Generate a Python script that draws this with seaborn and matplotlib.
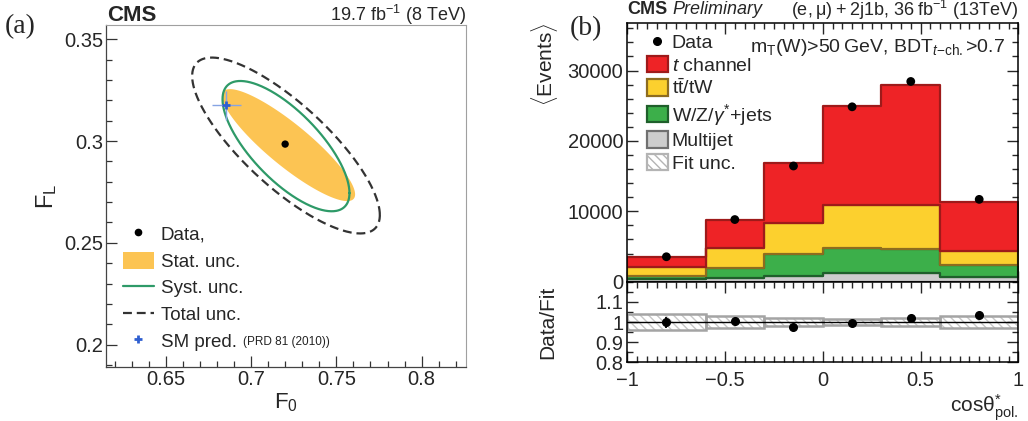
import numpy as np
import pandas as pd
import matplotlib
matplotlib.use('Agg')
import matplotlib.pyplot as plt
from matplotlib.colors import to_hex
from matplotlib.lines import Line2D
from matplotlib.patches import Patch
from matplotlib.ticker import MultipleLocator, FixedLocator, FixedFormatter
import seaborn as sns

# ── (a) W helicity fractions F0 vs FL ─────────────────────────────────────
contour_names = ['Stat. unc.', 'Syst. unc.', 'Total unc.']
contour_F0  = [0.7220, 0.7205, 0.7205]     # contour centre
contour_FL  = [0.2980, 0.2975, 0.2978]
contour_dF0 = [0.0390, 0.0372, 0.0550]     # half extent along F0
contour_dFL = [0.0275, 0.0320, 0.0432]     # half extent along FL
contour_rho = [-0.88, -0.72, -0.79]

data_F0, data_FL = [0.720], [0.2985]
sm_F0, sm_FL = [0.6855], [0.3175]
sm_F0_err, sm_FL_err = [0.0085], [0.0072]

a_xticks  = [0.65, 0.70, 0.75, 0.80]
a_xlabels = ['0.65', '0.7', '0.75', '0.8']
a_yticks  = [0.20, 0.25, 0.30, 0.35]
a_ylabels = ['0.2', '0.25', '0.3', '0.35']

# ── (b) cos theta*_pol. distribution ──────────────────────────────────────
bin_edges   = [-1.0, -0.6, -0.3, 0.0, 0.3, 0.6, 1.0]
yield_tch   = [1420, 4030, 8440, 14080, 17060, 6920]
yield_ttbar = [1280, 2840, 4500, 6210, 6160, 2040]
yield_wjets = [520, 1330, 3030, 3460, 3510, 1660]
yield_qcd   = [330, 570, 850, 1280, 1190, 710]
data_counts = [3544, 8830, 16440, 24850, 28450, 11700]
ratio_err   = [0.028, 0.012, 0.009, 0.007, 0.007, 0.010]
fit_unc_rel = [0.042, 0.030, 0.022, 0.017, 0.020, 0.029]

proc_labels = [r'$t$ channel', r'$\mathrm{t\bar{t}}$/tW',
               r'W/Z/$\gamma^{*}$+jets', 'Multijet']
proc_fill = ['#ee2326', '#fcd02e', '#3caf4a', '#cdcdcd']
proc_edge = ['#9e1a1a', '#8d6c1f', '#1f5f2b', '#707070']

b_xticks  = [-1, -0.5, 0, 0.5, 1]
b_xlabels = ['\u22121', '\u22120.5', '0', '0.5', '1']
r_yticks  = [0.8, 0.9, 1.0, 1.1]
r_ylabels = ['0.8', '0.9', '1', '1.1']

# ── Style ─────────────────────────────────────────────────────────────────
sns.set_theme(style='ticks')
plt.rcParams['font.family'] = ['Liberation Sans', 'DejaVu Sans']
plt.rcParams['mathtext.fontset'] = 'custom'
plt.rcParams['mathtext.rm'] = 'Liberation Sans'
plt.rcParams['mathtext.it'] = 'Liberation Sans:italic'
plt.rcParams['mathtext.bf'] = 'Liberation Sans:bold'
plt.rcParams['hatch.linewidth'] = 1.0

W, H = 1028, 421
fig = plt.figure(figsize=(W / 100, H / 100), dpi=100)
fig.patch.set_facecolor('white')


def px_axes(x0, y0, x1, y1):
    return fig.add_axes([x0 / W, 1 - y1 / H, (x1 - x0) / W, (y1 - y0) / H])


# ── Panel (a) ─────────────────────────────────────────────────────────────
ax = px_axes(106, 25, 466, 367)
t = np.linspace(0, 2 * np.pi, 500)
styles = [dict(kind='fill', color='#fcc453'),
          dict(kind='line', color='#2e9a68', lw=1.6, ls='-'),
          dict(kind='line', color='#333333', lw=1.6, ls=(0, (4, 2.2)))]
for cx, cy, sx, sy, r, st in zip(contour_F0, contour_FL, contour_dF0,
                                 contour_dFL, contour_rho, styles):
    ex = cx + sx * np.cos(t)
    ey = cy + sy * (r * np.cos(t) + np.sqrt(1 - r ** 2) * np.sin(t))
    if st['kind'] == 'fill':
        ax.fill(ex, ey, color=st['color'], lw=0, zorder=1)
    else:
        ax.plot(ex, ey, color=st['color'], lw=st['lw'], ls=st['ls'], zorder=2)

ax.errorbar(sm_F0, sm_FL, xerr=sm_F0_err, yerr=sm_FL_err, fmt='none',
            ecolor='#86a4e4', elinewidth=1.0, zorder=3)
ax.plot(sm_F0, sm_FL, marker='+', color='#2f5fd0', ms=6, mew=2, ls='none',
        zorder=4)
sns.scatterplot(x=data_F0, y=data_FL, color='black', s=28, edgecolor='none',
                ax=ax, zorder=5)

ax.set_xlim(0.615, 0.826)
ax.set_ylim(0.189, 0.357)
ax.xaxis.set_major_locator(FixedLocator(a_xticks))
ax.xaxis.set_major_formatter(FixedFormatter(a_xlabels))
ax.yaxis.set_major_locator(FixedLocator(a_yticks))
ax.yaxis.set_major_formatter(FixedFormatter(a_ylabels))
ax.xaxis.set_minor_locator(MultipleLocator(0.01))
ax.yaxis.set_minor_locator(MultipleLocator(0.01))
ax.tick_params(which='both', direction='in', labelsize=14.5, pad=2,
               color='#333333', width=0.9)
ax.tick_params(which='major', length=8)
ax.tick_params(which='minor', length=4)
for s in ['left', 'bottom']:
    ax.spines[s].set_color('#444444')
    ax.spines[s].set_linewidth(0.9)
for s in ['top', 'right']:
    ax.spines[s].set_visible(True)
    ax.spines[s].set_color('#a0a0a0')
    ax.spines[s].set_linewidth(0.8)
ax.set_xlabel(r'F$_0$', fontsize=16, labelpad=2)
ax.set_ylabel(r'F$_\mathrm{L}$', fontsize=17, labelpad=4)

leg_a = [Line2D([], [], marker='o', ls='none', color='black', ms=4.5,
                label='Data,'),
         Patch(facecolor='#fcc453', edgecolor='none', label=contour_names[0]),
         Line2D([], [], color='#2e9a68', lw=1.6, label=contour_names[1]),
         Line2D([], [], color='#333333', lw=1.6, ls=(0, (4, 2.2)),
                label=contour_names[2]),
         Line2D([], [], marker='+', ls='none', color='#2f5fd0', ms=6, mew=2,
                label='SM pred.')]
ax.legend(handles=leg_a, loc='upper left', bbox_to_anchor=(0.047, 0.415),
          frameon=False, fontsize=13.5, borderpad=0, borderaxespad=0,
          handlelength=1.65, handleheight=1.0, handletextpad=0.37,
          labelspacing=0.42)
ax.text(0.381, 0.074, '(PRD 81 (2010))', transform=ax.transAxes,
        fontsize=8.5, va='center', ha='left', color='#222222')

fig.text(5 / W, 1 - 33 / H, '(a)', family='Liberation Serif', fontsize=20)
fig.text(107 / W, 1 - 21 / H, 'CMS', fontsize=16, fontweight='bold')
fig.text(466 / W, 1 - 21 / H, r'19.7 fb$^{-1}$ (8 TeV)', fontsize=13,
         ha='right')

# ── Panel (b): stacked histogram ──────────────────────────────────────────
axm = px_axes(627.3, 22.7, 1018.3, 281.7)
axr = px_axes(627.3, 281.7, 1018.3, 362.3)

centers = [(lo + hi) / 2 for lo, hi in zip(bin_edges[:-1], bin_edges[1:])]
widths = [hi - lo for lo, hi in zip(bin_edges[:-1], bin_edges[1:])]
stack = pd.DataFrame({
    'x': centers * 4,
    'w': yield_tch + yield_ttbar + yield_wjets + yield_qcd,
    'proc': sum([[p] * len(centers) for p in proc_labels], []),
})
sns.histplot(data=stack, x='x', weights='w', hue='proc',
             hue_order=proc_labels, bins=bin_edges, multiple='stack',
             element='step', palette=dict(zip(proc_labels, proc_fill)),
             alpha=1, linewidth=1.6, legend=False, ax=axm)
fill_to_edge = {to_hex(f): e for f, e in zip(proc_fill, proc_edge)}
for coll in axm.collections:
    fc = to_hex(coll.get_facecolor()[0])
    if fc in fill_to_edge:
        coll.set_edgecolor(fill_to_edge[fc])

sns.scatterplot(x=centers, y=data_counts, color='black', s=40,
                edgecolor='none', ax=axm, zorder=5)

axm.set_xlim(-1, 1)
axm.set_ylim(0, 36800)
axm.xaxis.set_major_locator(FixedLocator(b_xticks))
axm.xaxis.set_minor_locator(MultipleLocator(0.05))
axm.yaxis.set_major_locator(MultipleLocator(10000))
axm.yaxis.set_minor_locator(MultipleLocator(2000))
axm.tick_params(which='both', direction='in', top=True, right=True,
                labelbottom=False, labelsize=14.5, pad=3, width=1.0)
axm.tick_params(which='major', length=8)
axm.tick_params(which='minor', length=4)
axm.set_xlabel('')
axm.set_ylabel(r'$\langle$Events$\rangle$', fontsize=15, loc='top')
axm.yaxis.set_label_coords(-0.172, 1.0)
for s in axm.spines.values():
    s.set_color('black')
    s.set_linewidth(1.1)

axm.text(0.966, 0.887,
         'm$_\\mathrm{T}$(W)>50\u2009GeV, BDT$_{t\\mathrm{-ch.}}$>0.7',
         transform=axm.transAxes, ha='right', va='baseline', fontsize=14)

leg_b = [Line2D([], [], marker='o', ls='none', color='black', ms=5.5,
                label='Data')]
leg_b += [Patch(facecolor=f, edgecolor=e, lw=1.6, label=l)
          for l, f, e in zip(proc_labels, proc_fill, proc_edge)]
leg_b.append(Patch(facecolor='white', edgecolor='#b4b4b4',
                   hatch='\\\\\\\\', lw=1.6, label='Fit unc.'))
axm.legend(handles=leg_b, loc='upper left', bbox_to_anchor=(0.05, 0.958),
           frameon=False, fontsize=14, borderpad=0, borderaxespad=0,
           handlelength=1.08, handleheight=0.9, handletextpad=0.2,
           labelspacing=0.19)

# ── Panel (b): ratio ──────────────────────────────────────────────────────
total = np.sum([yield_tch, yield_ttbar, yield_wjets, yield_qcd], axis=0)
ratio = np.array(data_counts) / total
unc = np.array(fit_unc_rel)
axr.bar(centers, 2 * unc, bottom=1 - unc, width=widths, facecolor='none',
        edgecolor='#c6c6c6', linewidth=0, hatch='\\\\\\\\', zorder=1)
axr.bar(centers, 2 * unc, bottom=1 - unc, width=widths, facecolor='none',
        edgecolor='#a4a4a4', linewidth=1.8, zorder=2)
axr.axhline(1, color='black', lw=1.0, zorder=3)
axr.errorbar(centers, ratio, yerr=ratio_err, fmt='o', color='black', ms=5.5,
             elinewidth=1.3, capsize=0, zorder=4)

axr.set_xlim(-1, 1)
axr.set_ylim(0.8, 1.2)
axr.xaxis.set_major_locator(FixedLocator(b_xticks))
axr.xaxis.set_major_formatter(FixedFormatter(b_xlabels))
axr.xaxis.set_minor_locator(MultipleLocator(0.05))
axr.yaxis.set_major_locator(FixedLocator(r_yticks))
axr.yaxis.set_major_formatter(FixedFormatter(r_ylabels))
axr.yaxis.set_minor_locator(MultipleLocator(0.05))
axr.tick_params(which='both', direction='in', top=True, right=True,
                labelsize=14.5, pad=3, width=1.0)
axr.tick_params(which='major', length=8)
axr.tick_params(which='minor', length=4)
axr.tick_params(axis='x', pad=6)
for s in axr.spines.values():
    s.set_color('black')
    s.set_linewidth(1.1)
axr.set_ylabel('Data/Fit', fontsize=15)
axr.yaxis.set_label_coords(-0.18, 0.5)
axr.set_xlabel(r'cos$\mathrm{\theta}^{*}_{\mathrm{pol.}}$', fontsize=15,
               loc='right', labelpad=2)

fig.text(570 / W, 1 - 35 / H, '(b)', family='Liberation Serif', fontsize=20)
fig.text(627 / W, 1 - 14 / H, 'CMS', fontsize=13, fontweight='bold')
fig.text(672 / W, 1 - 14 / H, 'Preliminary', fontsize=13, style='italic')
fig.text(1018 / W, 1 - 16.5 / H,
         '(e,\u2009\u03bc)\u2009+\u20092j1b, 36\u2009fb$^{-1}$ (13TeV)',
         fontsize=13, ha='right')

fig.savefig('out.png', dpi=100, facecolor='white')
